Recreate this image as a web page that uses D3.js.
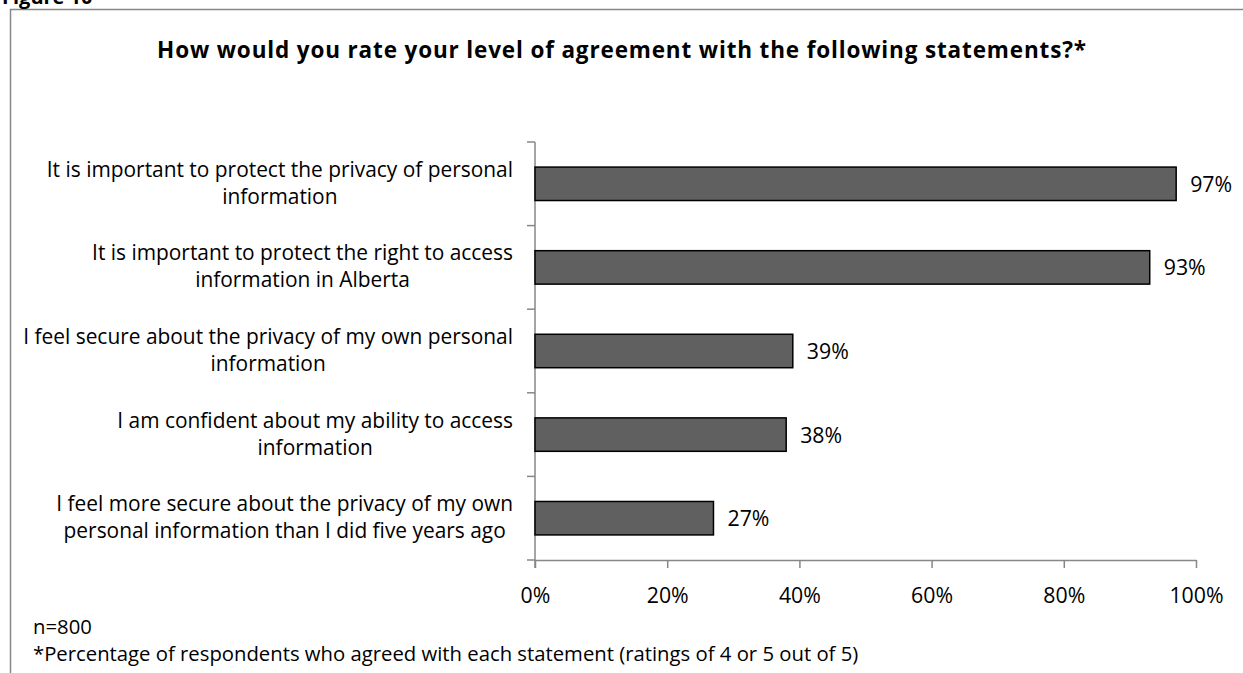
<!DOCTYPE html>
<html>
<head>
<meta charset="utf-8">
<script src="https://cdn.jsdelivr.net/npm/d3@7"></script>
<style>
  html, body { margin: 0; padding: 0; background: #fff; }
  svg { display: block; }
  text { font-family: "Open Sans", Lato, sans-serif; fill: #000; }
</style>
</head>
<body>
<svg id="chart" width="1243" height="673"></svg>
<script>
// Survey statements and share of respondents agreeing (%)
const statements = [
  ["It is important to protect the privacy of personal", "information"],
  ["It is important to protect the right to access", "information in Alberta"],
  ["I feel secure about the privacy of my own personal", "information"],
  ["I am confident about my ability to access", "information"],
  ["I feel more secure about the privacy of my own", "personal information than I did five years ago"]
];
const agreePct = [97, 93, 39, 38, 27];
const xTicks = [0, 20, 40, 60, 80, 100];

const titleText = "How would you rate your level of agreement with the following statements?*";
const figureLabel = "Figure 10";
const sampleNote = "n=800";
const footnote = "*Percentage of respondents who agreed with each statement (ratings of 4 or 5 out of 5)";

const svg = d3.select("#chart");
const axisColor = "#878787";
const labelSize = 20.9;
const numSize = 21.3;
const noteSize = 20.3;

// outer frame (only top and left edges fall inside the view)
svg.append("path")
  .attr("d", "M10.5,700 L10.5,9.5 L1300,9.5")
  .attr("fill", "none").attr("stroke", axisColor).attr("stroke-width", 1.5);

svg.append("text").attr("x", 2).attr("y", 4)
  .attr("font-size", 20).attr("font-weight", "bold").text(figureLabel);

svg.append("text").attr("x", 622).attr("y", 58)
  .attr("text-anchor", "middle").attr("font-size", 22.5).attr("font-weight", "bold")
  .attr("letter-spacing", 0.85)
  .text(titleText);

const plotLeft = 535, plotRight = 1196, plotTop = 142, plotBottom = 560;
const x = d3.scaleLinear().domain([0, 100]).range([plotLeft, plotRight]);
const y = d3.scaleBand().domain(d3.range(statements.length)).range([plotTop, plotBottom])
  .paddingInner(0.6).paddingOuter(0.3);
const yEdges = d3.scaleBand().domain(d3.range(statements.length)).range([plotTop, plotBottom]);

// category axis: vertical line with ticks at band boundaries
const g = svg.append("g");
g.append("line").attr("x1", plotLeft).attr("x2", plotLeft).attr("y1", plotTop).attr("y2", plotBottom + 8)
  .attr("stroke", axisColor).attr("stroke-width", 1.5);
const edges = d3.range(statements.length).map(i => yEdges(i)).concat([plotBottom]);
g.selectAll(".ytick").data(edges).join("line")
  .attr("x1", plotLeft - 8).attr("x2", plotLeft).attr("y1", d => d).attr("y2", d => d)
  .attr("stroke", axisColor).attr("stroke-width", 1.5);

// value axis
const xAxis = d3.axisBottom(x).tickValues(xTicks).tickSize(8).tickSizeOuter(0)
  .tickFormat(d => d + "%");
const xg = svg.append("g").attr("transform", `translate(0,${plotBottom})`).call(xAxis);
xg.select(".domain").attr("stroke", axisColor).attr("stroke-width", 1.5);
xg.selectAll(".tick line").attr("stroke", axisColor).attr("stroke-width", 1.5);
xg.selectAll(".tick text").attr("font-size", numSize).attr("font-family", "'Open Sans', sans-serif")
  .attr("fill", "#000").attr("dy", null).attr("y", 43);

// bars
svg.selectAll(".bar").data(agreePct).join("rect")
  .attr("x", x(0)).attr("y", (d, i) => y(i))
  .attr("width", d => x(d) - x(0)).attr("height", y.bandwidth())
  .attr("fill", "#606060").attr("stroke", "#000").attr("stroke-width", 1.5);

// value labels
svg.selectAll(".val").data(agreePct).join("text")
  .attr("x", d => x(d) + 14).attr("y", (d, i) => y(i) + y.bandwidth() / 2 + 8)
  .attr("font-size", numSize).text(d => d + "%");

// category labels: block right-aligned to axis, lines centred within block
const labelRight = 513;
statements.forEach((lines, i) => {
  const cy = yEdges(i) + yEdges.bandwidth() / 2;
  const grp = svg.append("g");
  const texts = lines.map((ln, j) => grp.append("text")
    .attr("font-size", labelSize).attr("text-anchor", "middle")
    .attr("y", cy - 7 + j * 27)
    .text(ln));
  const w = d3.max(texts, t => t.node().getComputedTextLength());
  texts.forEach(t => t.attr("x", labelRight - w / 2));
});

svg.append("text").attr("x", 33).attr("y", 634).attr("font-size", noteSize).text(sampleNote);
svg.append("text").attr("x", 33).attr("y", 661).attr("font-size", noteSize).text(footnote);
</script>
</body>
</html>
